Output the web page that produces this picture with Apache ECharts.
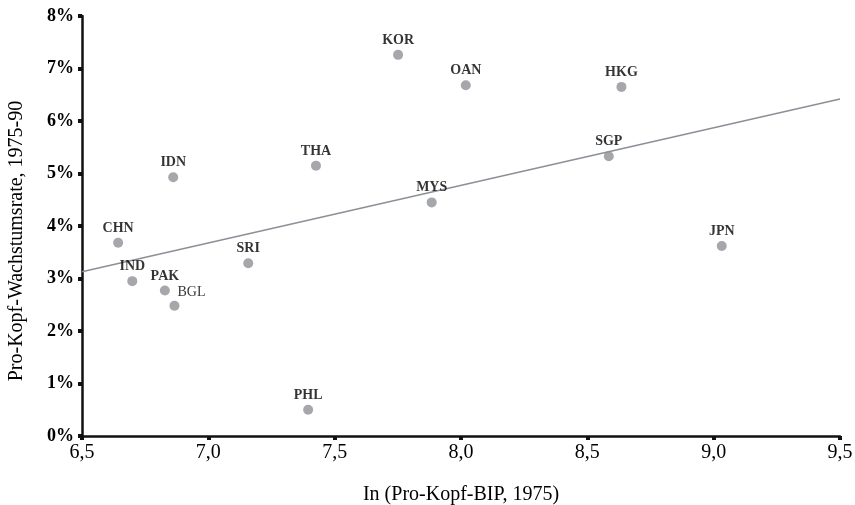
<!DOCTYPE html>
<html>
<head>
<meta charset="utf-8">
<script src="https://cdn.jsdelivr.net/npm/echarts@6/dist/echarts.min.js"></script>
<style>html,body{margin:0;padding:0;background:#fff}#c{width:855px;height:505px}</style>
</head>
<body>
<div id="c"></div>
<script>
const countries = ['CHN','IND','PAK','BGL','IDN','SRI','THA','PHL','KOR','MYS','OAN','SGP','HKG','JPN'];
const lnGdp1975 = [6.643,6.699,6.828,6.866,6.861,7.158,7.426,7.395,7.751,7.884,8.019,8.585,8.635,9.032];
const growth7590 = [3.68,2.95,2.77,2.48,4.93,3.29,5.15,0.50,7.26,4.45,6.68,5.33,6.65,3.62];
const trendX = [6.5, 9.5];
const trendY = [3.13, 6.42];
const xTicks = ['6,5','7,0','7,5','8,0','8,5','9,0','9,5'];

const serif = '"Liberation Serif","DejaVu Serif",serif';

const pts = countries.map((c, i) => {
  const d = {name: c, value: [lnGdp1975[i], growth7590[i]]};
  if (c === 'BGL') d.label = {offset: [17, 1], fontWeight: 'normal'};
  return d;
});

const chart = echarts.init(document.getElementById('c'));
chart.setOption({
  animation: false,
  grid: {left: 82, right: 15, top: 16, bottom: 69, outerBoundsMode: 'none', containLabel: false},
  xAxis: {
    type: 'value', min: 6.5, max: 9.5, interval: 0.5,
    name: 'In (Pro-Kopf-BIP, 1975)', nameLocation: 'middle', nameGap: 49,
    nameTextStyle: {fontFamily: serif, fontSize: 20, color: '#000'},
    axisLine: {lineStyle: {color: '#111', width: 2.5}},
    axisTick: {length: 4, lineStyle: {color: '#111', width: 4}},
    axisLabel: {fontFamily: serif, fontSize: 20, color: '#000', margin: 7,
      formatter: v => xTicks[Math.round((v - 6.5) / 0.5)]},
    splitLine: {show: false}
  },
  yAxis: {
    type: 'value', min: 0, max: 8, interval: 1,
    name: 'Pro-Kopf-Wachstumsrate, 1975-90', nameLocation: 'middle', nameGap: 55,
    nameTextStyle: {fontFamily: serif, fontSize: 20, color: '#000', padding: [0, 30, 0, 0]},
    axisLine: {show: true, lineStyle: {color: '#111', width: 2.5}},
    axisTick: {show: true, length: 4, lineStyle: {color: '#111', width: 4}},
    axisLabel: {fontFamily: serif, fontSize: 18, fontWeight: 'bold', color: '#000', margin: 8,
      formatter: v => v + '%'},
    splitLine: {show: false}
  },
  series: [
    {
      type: 'line',
      data: trendX.map((x, i) => [x, trendY[i]]),
      symbol: 'none',
      lineStyle: {color: '#8c9096', width: 1.6},
      silent: true, z: 1
    },
    {
      type: 'scatter',
      data: pts,
      symbolSize: 10,
      itemStyle: {color: '#8e9196'},
      label: {
        show: true, position: 'top', distance: 2.5,
        fontFamily: serif, fontSize: 14, fontWeight: 'bold', color: '#000',
        formatter: p => p.name
      },
      z: 2
    }
  ]
});
</script>
</body>
</html>
